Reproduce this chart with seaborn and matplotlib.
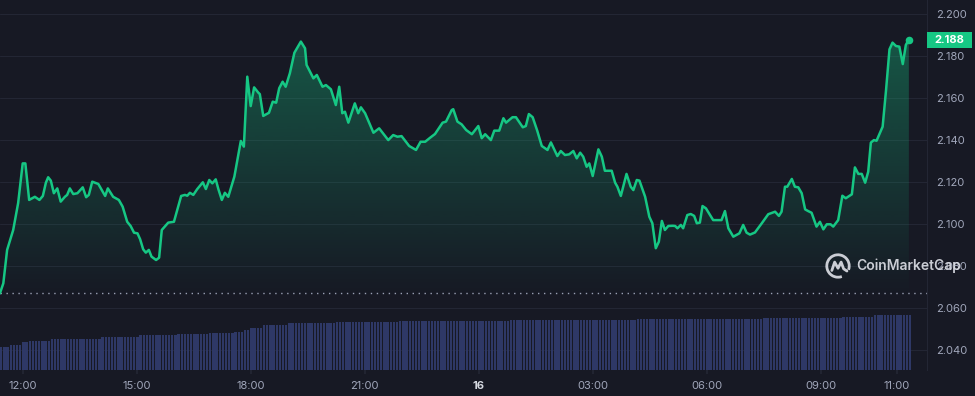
import numpy as np
import pandas as pd
import matplotlib.pyplot as plt
import matplotlib.patches as mpatches
from matplotlib.colors import to_rgb
import seaborn as sns

# price trace, hours counted from 00:00 of the 15th
hours = [11.40, 11.49, 11.59, 11.75, 11.88, 12.00, 12.07, 12.17, 12.32, 12.44, 12.53, 12.61,
         12.67, 12.74, 12.82, 12.91, 13.00, 13.11, 13.17, 13.24, 13.33, 13.44, 13.58, 13.67,
         13.74, 13.83, 13.99, 14.08, 14.17, 14.24, 14.38, 14.53, 14.63, 14.75, 14.84, 14.93,
         15.02, 15.09, 15.17, 15.24, 15.32, 15.39, 15.51, 15.59, 15.66, 15.83, 15.98, 16.17,
         16.27, 16.33, 16.40, 16.49, 16.59, 16.74, 16.82, 16.91, 16.99, 17.08, 17.15, 17.24,
         17.32, 17.41, 17.57, 17.74, 17.82, 17.91, 18.00, 18.09, 18.20, 18.24, 18.33, 18.48,
         18.58, 18.67, 18.75, 18.84, 18.92, 19.03, 19.15, 19.32, 19.43, 19.47, 19.65, 19.74,
         19.89, 19.98, 20.11, 20.24, 20.33, 20.41, 20.48, 20.57, 20.74, 20.83, 20.90, 21.01,
         21.23, 21.38, 21.62, 21.75, 21.86, 21.97, 22.17, 22.35, 22.47, 22.59, 22.72, 22.85,
         23.05, 23.14, 23.29, 23.33, 23.44, 23.55, 23.67, 23.82, 23.99, 24.08, 24.17, 24.32,
         24.41, 24.54, 24.65, 24.72, 24.89, 24.98, 25.16, 25.24, 25.32, 25.42, 25.54, 25.66,
         25.81, 25.90, 26.07, 26.16, 26.27, 26.38, 26.49, 26.58, 26.67, 26.75, 26.84, 26.91,
         27.00, 27.15, 27.24, 27.32, 27.50, 27.59, 27.65, 27.74, 27.89, 28.00, 28.07, 28.16,
         28.23, 28.38, 28.49, 28.57, 28.66, 28.74, 28.82, 28.90, 28.99, 29.11, 29.17, 29.23,
         29.32, 29.38, 29.49, 29.58, 29.67, 29.74, 29.82, 29.89, 29.98, 30.17, 30.39, 30.48,
         30.57, 30.70, 30.86, 30.96, 31.05, 31.14, 31.27, 31.45, 31.62, 31.80, 31.90, 31.97,
         32.06, 32.12, 32.24, 32.32, 32.41, 32.50, 32.59, 32.67, 32.76, 32.89, 32.98, 33.07,
         33.16, 33.26, 33.33, 33.46, 33.57, 33.66, 33.82, 33.90, 33.99, 34.08, 34.17, 34.25,
         34.32, 34.40, 34.47, 34.63, 34.72, 34.81, 34.89, 34.98, 35.07, 35.16, 35.24, 35.32]

price = [2.0671, 2.0719, 2.0878, 2.0973, 2.1101, 2.1290, 2.1290, 2.1116, 2.1131, 2.1116, 2.1135, 2.1198,
         2.1224, 2.1208, 2.1148, 2.1171, 2.1108, 2.1131, 2.1140, 2.1171, 2.1144, 2.1148, 2.1176, 2.1129,
         2.1140, 2.1203, 2.1192, 2.1163, 2.1135, 2.1171, 2.1131, 2.1116, 2.1084, 2.1012, 2.0992, 2.0960,
         2.0957, 2.0929, 2.0881, 2.0865, 2.0878, 2.0846, 2.0830, 2.0841, 2.0973, 2.1008, 2.1012, 2.1135,
         2.1140, 2.1136, 2.1150, 2.1140, 2.1167, 2.1200, 2.1168, 2.1211, 2.1195, 2.1214, 2.1167, 2.1116,
         2.1150, 2.1131, 2.1227, 2.1397, 2.1370, 2.1703, 2.1563, 2.1652, 2.1627, 2.1620, 2.1516, 2.1531,
         2.1584, 2.1579, 2.1648, 2.1679, 2.1655, 2.1719, 2.1817, 2.1870, 2.1838, 2.1759, 2.1695, 2.1711,
         2.1655, 2.1663, 2.1643, 2.1568, 2.1655, 2.1529, 2.1536, 2.1484, 2.1576, 2.1529, 2.1557, 2.1529,
         2.1436, 2.1457, 2.1401, 2.1425, 2.1417, 2.1420, 2.1373, 2.1354, 2.1393, 2.1393, 2.1412, 2.1430,
         2.1484, 2.1489, 2.1544, 2.1548, 2.1489, 2.1476, 2.1449, 2.1429, 2.1468, 2.1410, 2.1429, 2.1401,
         2.1446, 2.1446, 2.1505, 2.1484, 2.1510, 2.1510, 2.1462, 2.1468, 2.1525, 2.1510, 2.1446, 2.1373,
         2.1354, 2.1390, 2.1325, 2.1349, 2.1330, 2.1333, 2.1349, 2.1314, 2.1341, 2.1322, 2.1274, 2.1290,
         2.1230, 2.1357, 2.1322, 2.1255, 2.1255, 2.1198, 2.1179, 2.1135, 2.1240, 2.1179, 2.1163, 2.1211,
         2.1208, 2.1131, 2.1036, 2.1005, 2.0886, 2.0917, 2.1016, 2.0973, 2.0992, 2.0993, 2.0992, 2.0981,
         2.0997, 2.0981, 2.1044, 2.1049, 2.1040, 2.1005, 2.1008, 2.1087, 2.1076, 2.1020, 2.1020, 2.1063,
         2.0981, 2.0941, 2.0957, 2.0997, 2.0960, 2.0951, 2.0961, 2.1005, 2.1048, 2.1060, 2.1040, 2.1060,
         2.1179, 2.1179, 2.1216, 2.1179, 2.1176, 2.1148, 2.1071, 2.1063, 2.1055, 2.0989, 2.1012, 2.0976,
         2.1000, 2.1000, 2.0989, 2.1020, 2.1136, 2.1124, 2.1143, 2.1271, 2.1240, 2.1240, 2.1198, 2.1250,
         2.1389, 2.1401, 2.1398, 2.1465, 2.1640, 2.1833, 2.1865, 2.1849, 2.1846, 2.1763, 2.1854, 2.1880]

# 5 minute volume bars (relative units)
volume = [233, 233, 233, 250, 250, 250, 250, 283, 283, 293, 293, 293,
          293, 293, 293, 293, 307, 307, 307, 307, 313, 313, 313, 313,
          313, 313, 313, 313, 313, 313, 313, 313, 333, 333, 333, 333,
          333, 333, 333, 333, 333, 333, 333, 333, 350, 350, 350, 350,
          350, 350, 350, 350, 350, 350, 350, 350, 360, 360, 360, 360,
          360, 360, 360, 360, 360, 360, 373, 373, 373, 373, 373, 373,
          373, 373, 383, 383, 383, 400, 400, 423, 423, 423, 423, 450,
          450, 450, 450, 450, 450, 450, 450, 470, 470, 470, 470, 470,
          470, 470, 470, 470, 470, 470, 470, 470, 470, 470, 480, 480,
          480, 480, 480, 480, 480, 480, 480, 480, 480, 480, 480, 480,
          480, 480, 480, 480, 480, 480, 490, 490, 490, 490, 490, 490,
          490, 490, 490, 490, 490, 490, 490, 490, 490, 490, 490, 490,
          490, 490, 490, 490, 490, 490, 490, 490, 490, 490, 490, 490,
          490, 490, 490, 490, 490, 500, 500, 500, 500, 500, 500, 500,
          500, 500, 500, 500, 500, 500, 500, 500, 500, 500, 500, 500,
          500, 500, 500, 500, 500, 500, 500, 500, 500, 500, 500, 500,
          500, 500, 500, 500, 500, 500, 500, 500, 500, 510, 510, 510,
          510, 510, 510, 510, 510, 510, 510, 510, 510, 510, 510, 510,
          510, 510, 510, 510, 510, 510, 510, 510, 510, 510, 510, 510,
          510, 510, 510, 510, 510, 510, 510, 510, 510, 510, 510, 510,
          510, 520, 520, 520, 520, 520, 520, 520, 520, 520, 520, 520,
          520, 520, 520, 520, 520, 520, 520, 520, 520, 520, 520, 520,
          520, 520, 530, 530, 530, 530, 530, 530, 530, 530, 530, 530,
          550, 550, 550, 550, 550, 550, 550, 550, 550, 550, 550, 550]
vol_start = 11.435

tick_hours = [12, 15, 18, 21, 24, 27, 30, 33, 35]
tick_labels = ['12:00', '15:00', '18:00', '21:00', '16', '03:00', '06:00', '09:00', '11:00']
price_ticks = [2.04, 2.06, 2.08, 2.10, 2.12, 2.14, 2.16, 2.18, 2.20]
open_price = 2.0675
last_price = 2.188

bg = '#171924'
grid_c = '#232634'
green = '#16c784'
label_c = '#a1a7bb'
vol_c = '#2e3866'

sns.set_theme(style='dark')
plt.rcParams['font.family'] = ['Inter', 'DejaVu Sans']

W, H = 975, 396
fig = plt.figure(figsize=(9.75, 3.96), dpi=100, facecolor=bg)
ax = fig.add_axes([0, 26 / H, 927 / W, 370 / H])
ax.set_facecolor(bg)

df = pd.DataFrame({'hour': hours, 'price': price})

# volume on a hidden twin axis
axv = ax.twinx()
vol_x = vol_start + np.arange(len(volume)) / 12
axv.bar(vol_x, volume, width=0.72 / 12, color=vol_c, linewidth=0, zorder=1)
axv.set_ylim(0, 3700)
axv.set_yticks([])
for s in axv.spines.values():
    s.set_visible(False)

sns.lineplot(data=df, x='hour', y='price', ax=ax, color=green, linewidth=1.8, zorder=5)

# gradient under the line
poly = ax.fill_between(df['hour'], df['price'], open_price - 0.01, facecolor='none', edgecolor='none')
grad = np.zeros((256, 1, 4))
grad[..., :3] = to_rgb(green)
grad[:, 0, 3] = np.linspace(0.0, 0.36, 256)
im = ax.imshow(grad, extent=[hours[0], hours[-1], open_price - 0.002, 2.19],
               origin='lower', aspect='auto', zorder=2, interpolation='bilinear')
im.set_clip_path(poly.get_paths()[0], transform=ax.transData)

ax.axhline(open_price, color='#9aa0b4', lw=1, ls=(0, (1, 3.3)), zorder=4)
ax.scatter([hours[-1]], [price[-1]], s=30, color=green, zorder=6, linewidths=0)

ax.set_xlim(12 - 22.7 / 38, 12 + (927 - 22.7) / 38)
ax.set_ylim(2.2 - (370 - 14.3) / 2100, 2.2 + 14.3 / 2100)

ax.set_yticks(price_ticks)
ax.set_yticklabels([f'{t:.3f}' for t in price_ticks])
ax.yaxis.tick_right()
ax.tick_params(axis='y', length=0, pad=6.5, labelsize=8, labelcolor=label_c)
ax.set_xticks(tick_hours)
ax.set_xticklabels(tick_labels)
ax.tick_params(axis='x', length=3, color=grid_c, pad=5, labelsize=8, labelcolor=label_c, bottom=True)
lab16 = ax.get_xticklabels()[4]
lab16.set_fontweight('bold')
lab16.set_color('#d5d8e0')
ax.set_xlabel('')
ax.set_ylabel('')

ax.grid(axis='y', color=grid_c, lw=0.8)
ax.grid(axis='x', visible=False)
for name, s in ax.spines.items():
    s.set_visible(name == 'right')
ax.spines['right'].set_color(grid_c)
ax.spines['right'].set_linewidth(0.8)

# last price badge
fig.patches.append(mpatches.Rectangle((927 / W, 1 - 48.3 / H), 45 / W, 16.6 / H,
                                      transform=fig.transFigure, facecolor=green, edgecolor='none'))
fig.text(949.5 / W, 1 - 40 / H, f'{last_price:.3f}', ha='center', va='center',
         color='white', fontweight='bold', fontsize=8)

# watermark (overlaps the 2.080 label, as in the original)
fig.text(856 / W, 1 - 266 / H, 'CoinMarketCap', fontsize=10, fontweight='semibold',
         color='#dfe1e8', alpha=0.9, va='center', ha='left')
lax = fig.add_axes([824 / W, 1 - 280 / H, 28 / W, 28 / H])
lax.set_xlim(-1.25, 1.25)
lax.set_ylim(-1.25, 1.25)
lax.axis('off')
lax.add_patch(mpatches.Arc((0, 0), 2, 2, theta1=-20, theta2=290, color='#dfe1e8', lw=2, alpha=0.9))
lax.plot([-0.55, -0.3, 0.0, 0.28, 0.5, 0.8], [-0.4, 0.35, -0.2, 0.35, -0.25, -0.45],
         color='#dfe1e8', lw=2, alpha=0.9, solid_capstyle='round')

fig.savefig('out.png', dpi=100, facecolor=bg)
